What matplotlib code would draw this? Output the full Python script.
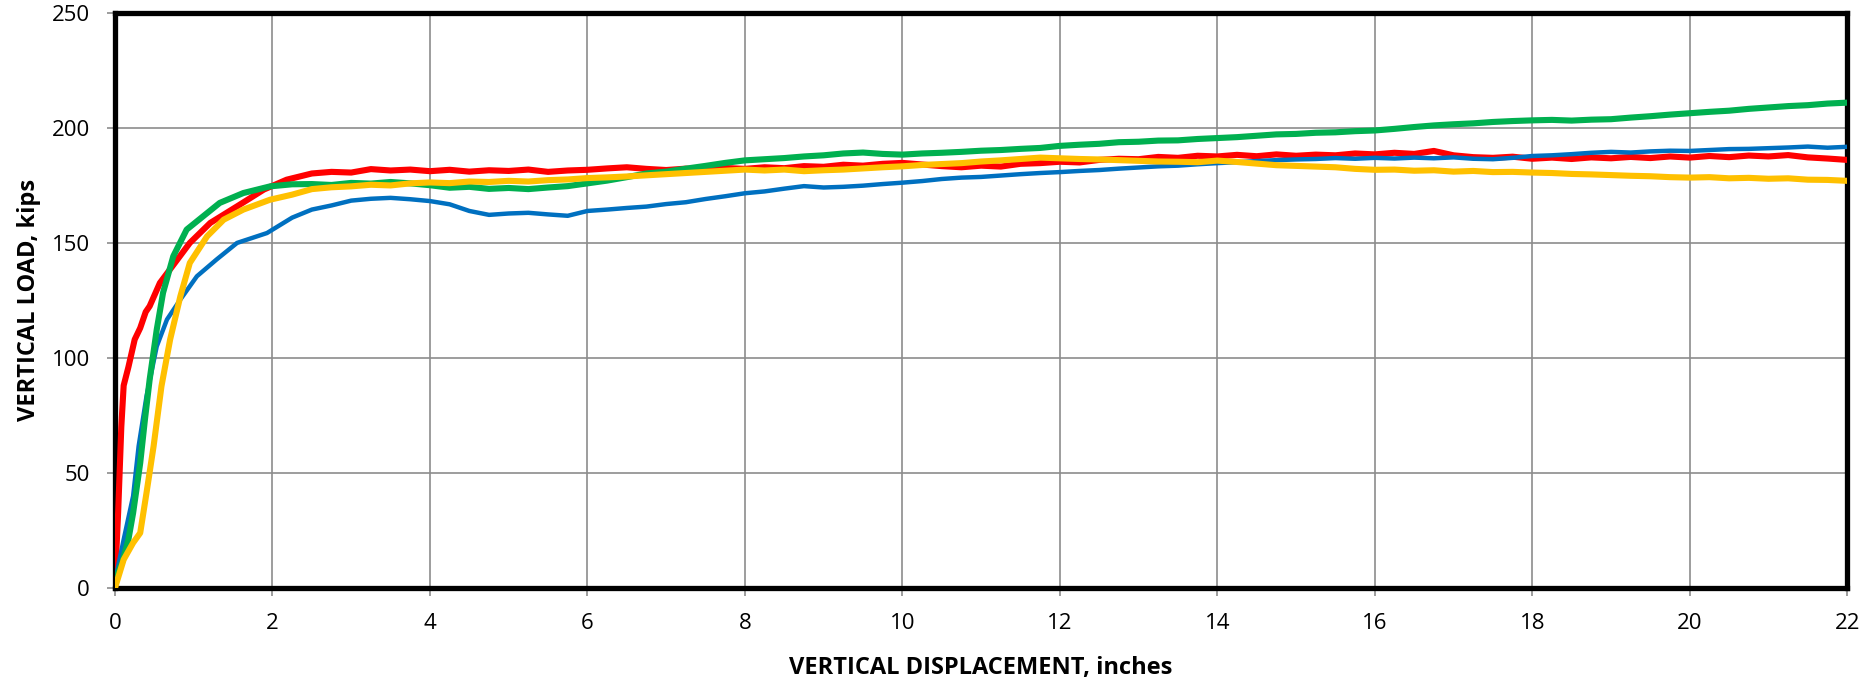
import matplotlib
matplotlib.use("Agg")
import matplotlib.pyplot as plt

plt.rcParams['font.family'] = ['Open Sans', 'DejaVu Sans']

# rise portion (x < 2.5 in)
red_x0 = [0, 0.02, 0.04, 0.08, 0.11, 0.17, 0.25, 0.32, 0.39, 0.44, 0.57, 0.76, 0.95, 1.21, 1.55, 1.89, 2.18]
red_y0 = [0, 18, 33, 70, 88, 96, 108, 113, 120, 122.5, 132.6, 141.3, 150, 158.7, 165.9, 173.2, 177.5]
green_x0 = [0, 0.1, 0.17, 0.23, 0.32, 0.38, 0.44, 0.53, 0.61, 0.74, 0.91, 1.12, 1.33, 1.63, 1.97, 2.25]
green_y0 = [3, 12, 21, 32.6, 54.3, 73.2, 90.6, 112.3, 128.3, 144.2, 155.8, 161.6, 167.4, 171.7, 174.6, 175.5]
blue_x0 = [0, 0.11, 0.23, 0.30, 0.40, 0.53, 0.66, 0.83, 1.04, 1.29, 1.55, 1.93, 2.25]
blue_y0 = [3, 21, 39.9, 61.6, 83.3, 105, 116.7, 125.4, 135.5, 142.8, 150, 154.3, 161]
yellow_x0 = [0, 0.11, 0.23, 0.32, 0.40, 0.49, 0.59, 0.70, 0.83, 0.95, 1.17, 1.38, 1.63, 1.97, 2.25]
yellow_y0 = [0, 12.3, 19.6, 23.9, 41.3, 61.6, 87.7, 108, 126.8, 141.3, 152.9, 160.1, 164.5, 168.8, 171]

# plateau portion, shared displacement readings
disp = [2.5, 2.75, 3, 3.25, 3.5, 3.75, 4, 4.25, 4.5, 4.75, 5, 5.25, 5.5, 5.75, 6, 6.25,
        6.5, 6.75, 7, 7.25, 7.5, 7.75, 8, 8.25, 8.5, 8.75, 9, 9.25, 9.5, 9.75, 10, 10.25,
        10.5, 10.75, 11, 11.25, 11.5, 11.75, 12, 12.25, 12.5, 12.75, 13, 13.25, 13.5, 13.75,
        14, 14.25, 14.5, 14.75, 15, 15.25, 15.5, 15.75, 16, 16.25, 16.5, 16.75, 17, 17.25,
        17.5, 17.75, 18, 18.25, 18.5, 18.75, 19, 19.25, 19.5, 19.75, 20, 20.25, 20.5, 20.75,
        21, 21.25, 21.5, 21.75, 22]
red = [180.2, 180.9, 180.6, 182.1, 181.5, 181.9, 181.2, 181.8, 181.0, 181.6, 181.3, 181.9,
       180.9, 181.5, 181.8, 182.4, 182.9, 182.2, 181.7, 182.3, 181.9, 182.6, 182.2, 182.9,
       182.5, 183.4, 183.1, 184.0, 183.6, 184.4, 184.8, 184.1, 183.4, 182.9, 183.6, 183.2,
       184.4, 184.7, 185.3, 185.0, 186.1, 186.6, 186.4, 187.4, 187.0, 187.9, 187.6, 188.3,
       187.7, 188.5, 187.9, 188.4, 188.1, 188.9, 188.5, 189.2, 188.7, 190.0, 188.1, 187.3,
       187.0, 187.5, 186.6, 187.1, 186.5, 187.2, 186.8, 187.4, 186.9, 187.6, 187.1, 187.8,
       187.3, 188.0, 187.6, 188.2, 187.2, 186.7, 186.1]
green = [175.6, 175.2, 176.1, 175.8, 176.5, 175.9, 175.1, 174.0, 174.4, 173.5, 173.9, 173.4,
         174.1, 174.7, 175.9, 177.1, 178.6, 180.2, 181.0, 182.3, 183.5, 184.8, 185.9, 186.4,
         186.9, 187.6, 188.1, 188.9, 189.3, 188.7, 188.4, 188.9, 189.2, 189.6, 190.1, 190.4,
         190.9, 191.3, 192.2, 192.7, 193.1, 193.8, 194.0, 194.5, 194.6, 195.2, 195.6, 196.0,
         196.6, 197.2, 197.4, 197.9, 198.1, 198.6, 198.9, 199.6, 200.4, 201.1, 201.6, 202.0,
         202.6, 203.0, 203.3, 203.5, 203.2, 203.6, 203.8, 204.5, 205.1, 205.8, 206.4, 207.0,
         207.5, 208.3, 208.9, 209.5, 209.9, 210.6, 211.0]
yellow = [173.4, 174.2, 174.6, 175.3, 175.0, 175.9, 176.3, 176.0, 176.7, 176.5, 177.0, 176.7,
          177.3, 177.6, 178.2, 178.5, 178.9, 179.4, 179.9, 180.4, 180.9, 181.4, 181.9, 181.5,
          181.9, 181.2, 181.6, 181.9, 182.4, 182.9, 183.3, 183.9, 184.3, 184.7, 185.4, 185.9,
          186.5, 187.1, 186.8, 186.5, 186.3, 186.0, 185.7, 185.4, 185.3, 185.1, 185.8, 185.2,
          184.5, 183.8, 183.5, 183.2, 182.9, 182.2, 181.8, 181.9, 181.4, 181.6, 181.0, 181.3,
          180.8, 180.9, 180.6, 180.4, 180.0, 179.8, 179.5, 179.2, 179.0, 178.6, 178.4, 178.6,
          178.1, 178.3, 177.9, 178.1, 177.5, 177.4, 177.0]
blue = [164.5, 166.3, 168.4, 169.2, 169.6, 169.0, 168.2, 166.8, 163.9, 162.2, 162.8, 163.1,
        162.4, 161.8, 163.9, 164.5, 165.2, 165.8, 166.9, 167.7, 169.1, 170.3, 171.6, 172.4,
        173.6, 174.7, 174.1, 174.4, 174.9, 175.6, 176.2, 176.9, 177.8, 178.4, 178.7, 179.3,
        179.9, 180.4, 180.8, 181.3, 181.7, 182.3, 182.8, 183.3, 183.6, 184.2, 184.7, 185.1,
        185.6, 186.0, 186.3, 186.5, 186.9, 186.6, 187.0, 186.7, 187.1, 186.8, 187.2, 186.6,
        186.4, 187.0, 187.8, 188.1, 188.6, 189.2, 189.6, 189.3, 189.8, 190.1, 190.0, 190.4,
        190.8, 190.9, 191.2, 191.5, 191.9, 191.4, 191.8]

fig = plt.figure(figsize=(18.64, 6.82), dpi=100)
ax = fig.add_axes([0.0617, 0.138, 0.9293, 0.843])

ax.plot(red_x0 + disp, red_y0 + red, color='#FF0000', lw=4.4, solid_joinstyle='round', zorder=3)
ax.plot(blue_x0 + disp, blue_y0 + blue, color='#0070C0', lw=3.2, solid_joinstyle='round', zorder=4)
ax.plot(green_x0 + disp, green_y0 + green, color='#00B050', lw=4.4, solid_joinstyle='round', zorder=5)
ax.plot(yellow_x0 + disp, yellow_y0 + yellow, color='#FFC000', lw=4.4, solid_joinstyle='round', zorder=6)

ax.set_xlim(0, 22)
ax.set_ylim(0, 250)
ax.set_xticks(range(0, 23, 2))
ax.set_yticks(range(0, 251, 50))
ax.grid(True, color='#8c8c8c', lw=1.2)
ax.set_axisbelow(True)
for s in ax.spines.values():
    s.set_linewidth(3.8)
    s.set_color('black')
ax.tick_params(direction='out', length=6, width=1.2, color='#8c8c8c', labelsize=16, pad=12)
ax.set_xlabel('VERTICAL DISPLACEMENT, inches', fontsize=17, fontweight='bold', labelpad=16)
ax.set_ylabel('VERTICAL LOAD, kips', fontsize=17, fontweight='bold', labelpad=8)

fig.savefig('out.png', dpi=100)
